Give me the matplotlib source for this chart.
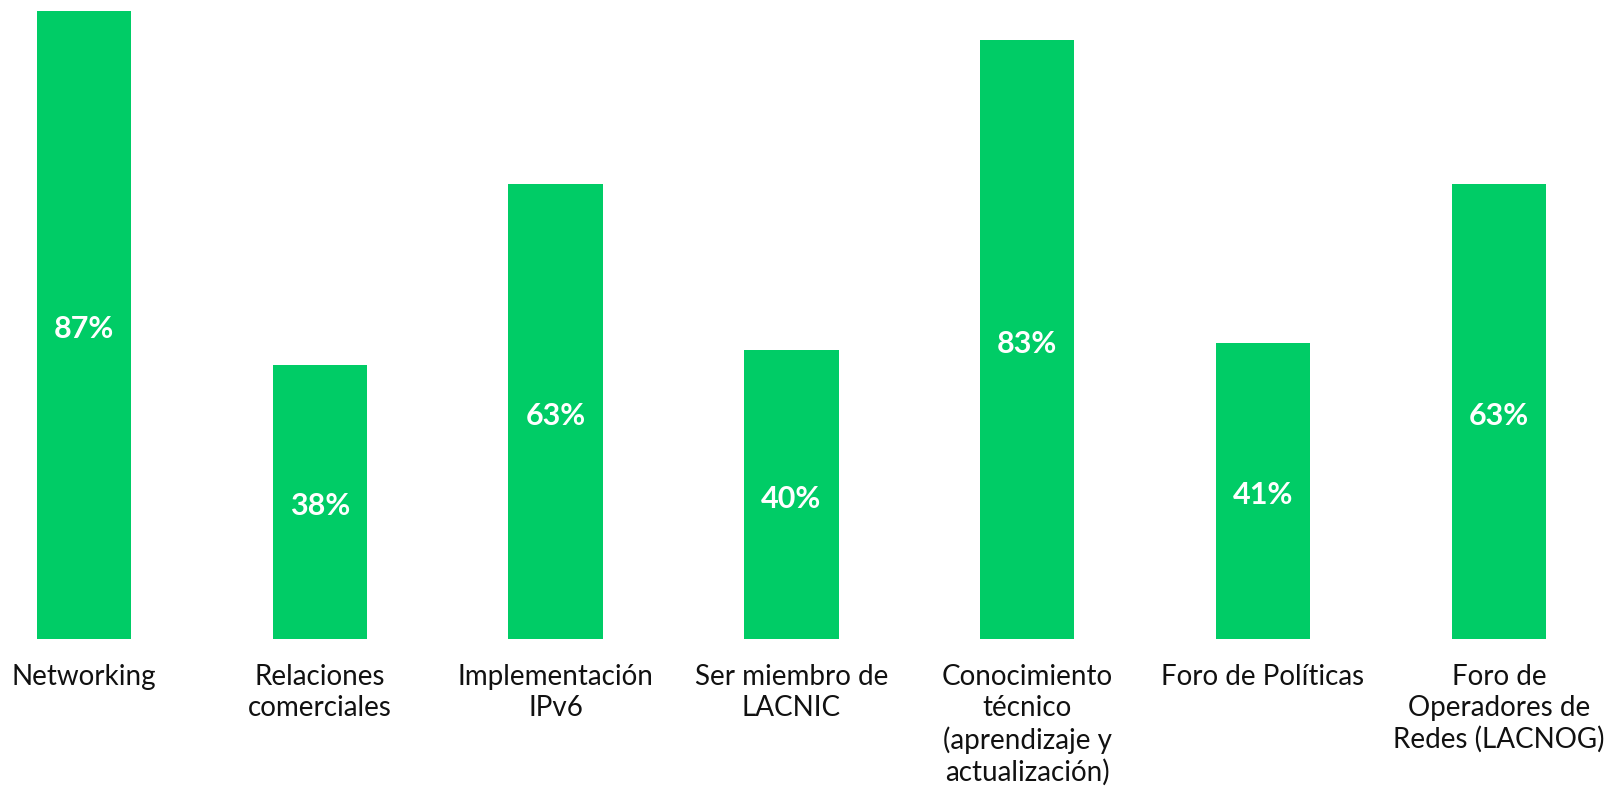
import matplotlib
matplotlib.use("Agg")
import matplotlib.pyplot as plt

categories = [
    "Networking",
    "Relaciones\ncomerciales",
    "Implementación\nIPv6",
    "Ser miembro de\nLACNIC",
    "Conocimiento\ntécnico\n(aprendizaje y\nactualización)",
    "Foro de Políticas",
    "Foro de\nOperadores de\nRedes (LACNOG)",
]
values = [87, 38, 63, 40, 83, 41, 63]

bar_color = "#00CC66"

plt.rcParams["font.family"] = ["Lato", "DejaVu Sans"]

fig = plt.figure(figsize=(16.04, 7.86), dpi=100)
ax = fig.add_axes([0, 0.187, 1, 0.813])

x = list(range(len(categories)))
bars = ax.bar(x, values, width=0.4, color=bar_color)

for rect, v in zip(bars, values):
    ax.annotate(f"{v}%", (rect.get_x() + rect.get_width() / 2, v / 2),
                xytext=(0, -3), textcoords="offset points",
                ha="center", va="center", color="white",
                fontsize=22, fontweight="bold")

ax.set_xlim(-0.356, 6.446)
ax.set_ylim(0, 88.5)
ax.set_xticks(x)
ax.set_xticklabels(categories, fontsize=20, color="#111111", linespacing=1.24)
ax.tick_params(axis="x", length=0, pad=18)
ax.set_yticks([])
for s in ax.spines.values():
    s.set_visible(False)

fig.savefig("out.png", dpi=100)
